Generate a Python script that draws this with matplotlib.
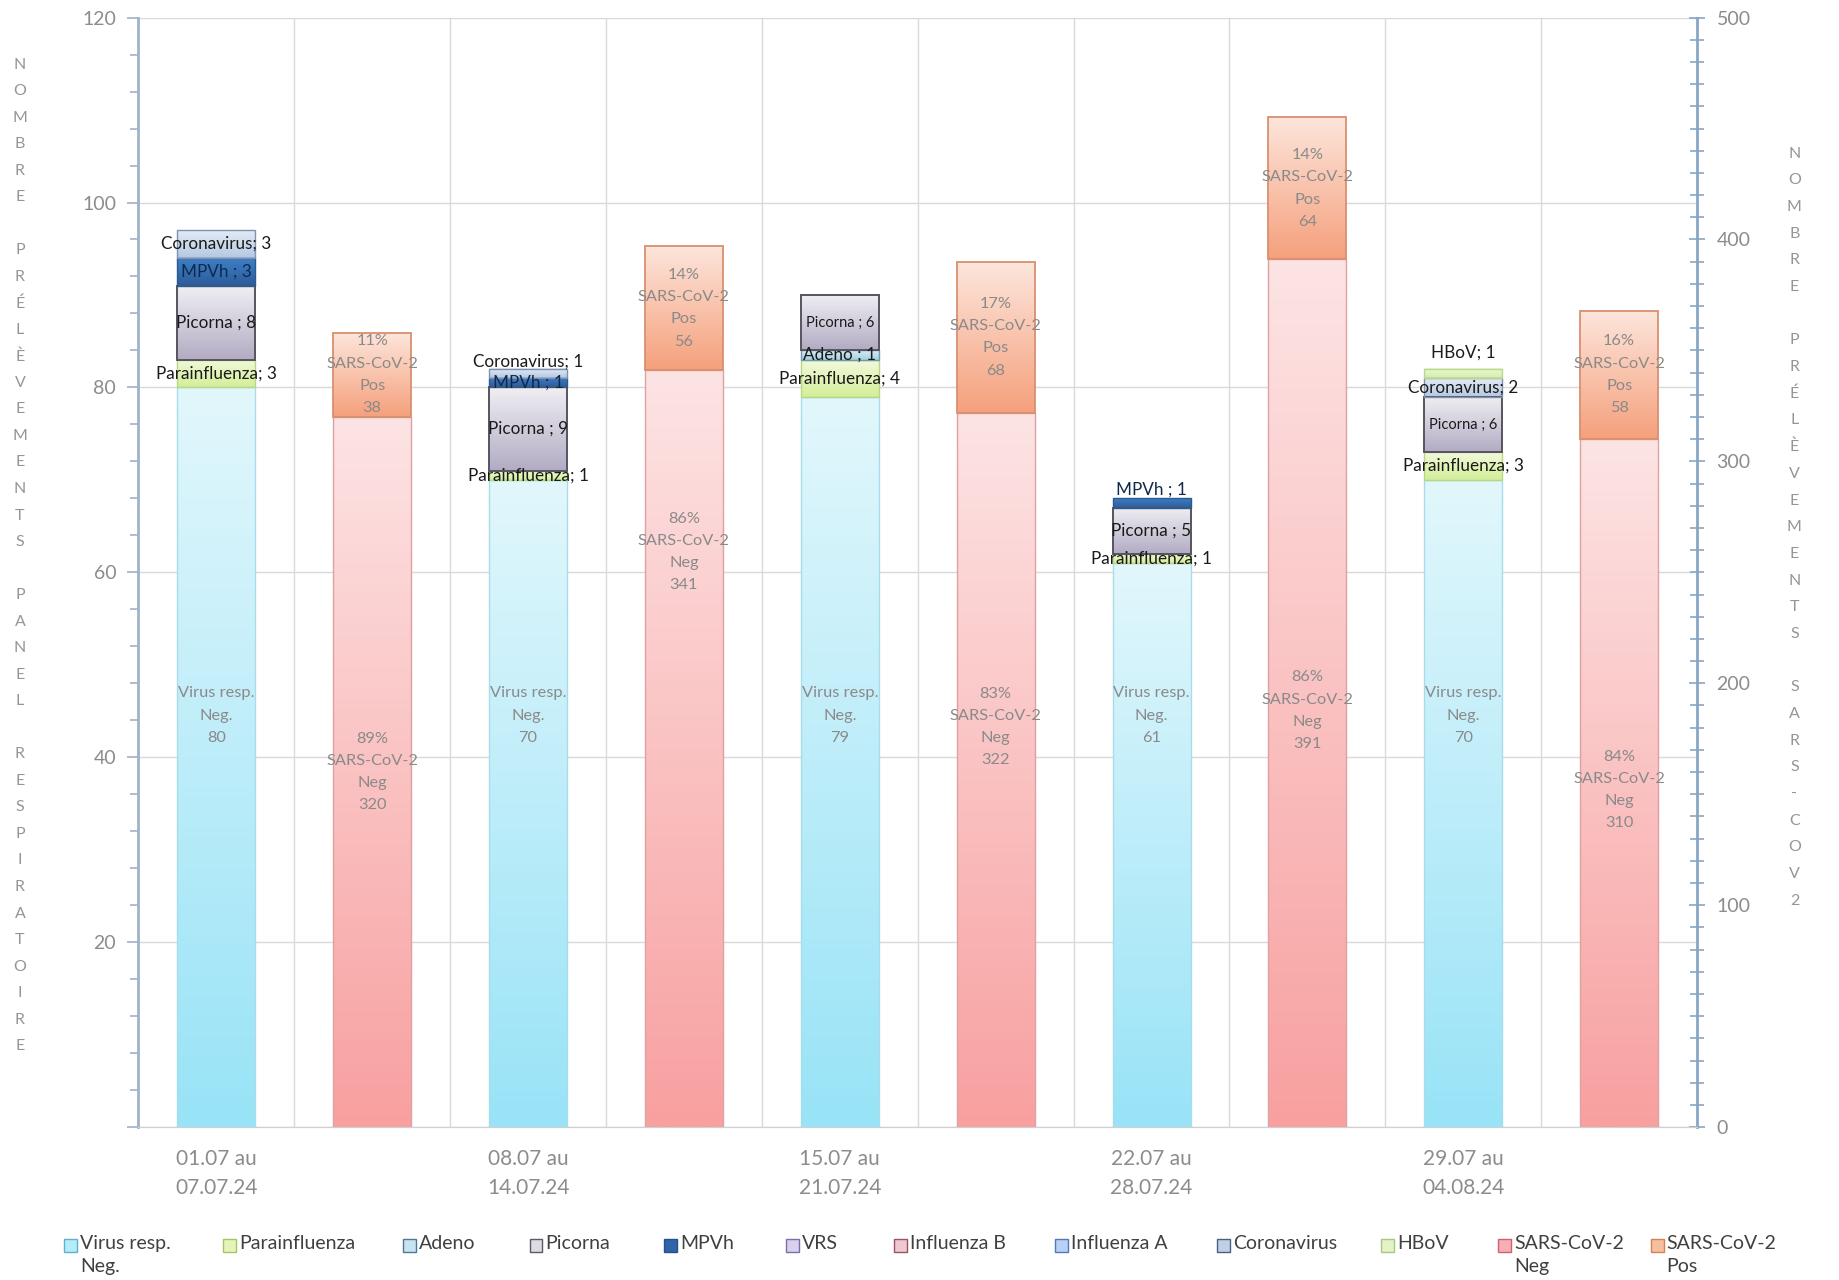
import numpy as np
import matplotlib
matplotlib.use("Agg")
import matplotlib.pyplot as plt
from matplotlib.patches import Rectangle
from matplotlib.ticker import MultipleLocator
from matplotlib.colors import to_rgb

plt.rcParams['font.family'] = ['Lato', 'DejaVu Sans']

# ---------------- data ----------------
weeks = ["01.07 au\n07.07.24", "08.07 au\n14.07.24", "15.07 au\n21.07.24",
         "22.07 au\n28.07.24", "29.07 au\n04.08.24"]
virus_neg = [80, 70, 79, 61, 70]
parainfluenza = [3, 1, 4, 1, 3]
adeno = [0, 0, 1, 0, 0]
picorna = [8, 9, 6, 5, 6]
mpvh = [3, 1, 0, 1, 0]
vrs = [0, 0, 0, 0, 0]
influenza_b = [0, 0, 0, 0, 0]
influenza_a = [0, 0, 0, 0, 0]
coronavirus = [3, 1, 0, 0, 2]
hbov = [0, 0, 0, 0, 1]
sars_neg = [320, 341, 322, 391, 310]
sars_pos = [38, 56, 68, 64, 58]

legend_labels = ["Virus resp.\nNeg.", "Parainfluenza", "Adeno", "Picorna", "MPVh", "VRS",
                 "Influenza B", "Influenza A", "Coronavirus", "HBoV", "SARS-CoV-2\nNeg",
                 "SARS-CoV-2\nPos"]

# ---------------- styles ----------------
# (name, values, label format, top colour, bottom colour, edge colour, text colour)
virus_series = [
    ("Parainfluenza", parainfluenza, "Parainfluenza; {}", "#f2f9dc", "#d4ee98", "#b8d880", "#1a1a1a"),
    ("Adeno", adeno, "Adeno ; {}", "#d8ecf4", "#a4cfe0", "#6d98b0", "#1a1a1a"),
    ("Picorna", picorna, "Picorna ; {}", "#f0eff3", "#b2abc3", "#55555f", "#1a1a1a"),
    ("MPVh", mpvh, "MPVh ; {}", "#3f7fc6", "#2a5c9c", "#2a5a90", "#10284a"),
    ("VRS", vrs, "VRS ; {}", "#e4e0f0", "#c0b8dc", "#8a80b0", "#1a1a1a"),
    ("Influenza B", influenza_b, "Influenza B ; {}", "#f4dce0", "#e0b0b8", "#a06070", "#1a1a1a"),
    ("Influenza A", influenza_a, "Influenza A ; {}", "#dce8f8", "#a8c4ec", "#5080c0", "#1a1a1a"),
    ("Coronavirus", coronavirus, "Coronavirus; {}", "#e4ebf5", "#b4c8e2", "#8090b0", "#1a1a1a"),
    ("HBoV", hbov, "HBoV; {}", "#eef8d4", "#d4ecac", "#b8d890", "#1a1a1a"),
]
# extra vertical shift (data units) for labels that were moved above crowded bars
label_shift = {("Coronavirus", 1): 1.3, ("MPVh", 3): 1.5, ("HBoV", 4): 2.3}
small_label = {("Picorna", 2), ("Picorna", 4)}
neg_label_frac = [0.50, 0.76, 0.56, 0.48, 0.49]
VNEG_LABEL_Y = 44.5

legend_face = ["#b4ecf8", "#e6f4bc", "#c8e2f0", "#dcdce2", "#2f65a8", "#d8d0ec",
               "#eccad0", "#b8d0f4", "#bfd0e4", "#e4f2c8", "#f6b0b4", "#f6c0a0"]
legend_edge = ["#60b0d0", "#a0c860", "#4a7898", "#5a5a66", "#2a5088", "#7a70a8",
               "#a05060", "#5078c0", "#4a6080", "#a8c880", "#d06070", "#d88050"]

W, H = 1839, 1280
SH = W / 1568.0  # scale from a 1568-wide layout grid


def grad_rect(ax, x, y, w, h, top, bottom, edge, lw=1.0, z=2):
    if h <= 0:
        return
    c0 = np.array(to_rgb(bottom))
    c1 = np.array(to_rgb(top))
    t = np.linspace(0, 1, 256)[:, None, None]
    img = c0[None, None, :] * (1 - t) + c1[None, None, :] * t
    ax.imshow(img, extent=[x, x + w, y, y + h], origin='lower', aspect='auto',
              interpolation='bilinear', zorder=z)
    ax.add_patch(Rectangle((x, y), w, h, facecolor='none', edgecolor=edge,
                           linewidth=lw, zorder=z + 0.5))


fig = plt.figure(figsize=(W / 100, H / 100), dpi=100)
left, right = 118 * SH / W, 1447 * SH / W
bottom, top = 1 - 961 * SH / H, 1 - 15 * SH / H
ax = fig.add_axes([left, bottom, right - left, top - bottom])
ax2 = ax.twinx()

n = len(weeks)
xv = np.arange(n) * 2          # virus bars
xs = np.arange(n) * 2 + 1      # SARS bars
bw = 0.5
LAB_FS = 11.8
LAB_LS = 1.75

# --- virus bars (left axis) ---
bars = ax.bar(xv, virus_neg, width=bw, color='none', edgecolor='none')
for i, p in enumerate(bars.patches):
    grad_rect(ax, p.get_x(), 0, bw, virus_neg[i], "#e2f7fc", "#98e3f7", "#a8dcea")
    ax.text(xv[i], VNEG_LABEL_Y, f"Virus resp.\nNeg.\n{virus_neg[i]}", ha='center',
            va='center', fontsize=LAB_FS, color='#8a8a8a', linespacing=LAB_LS, zorder=6)

cum = np.array(virus_neg, dtype=float)
for name, vals, fmt, ctop, cbot, cedge, tcol in virus_series:
    vals = np.array(vals, dtype=float)
    bs = ax.bar(xv, vals, width=bw, bottom=cum, color='none', edgecolor='none')
    for i, p in enumerate(bs.patches):
        if vals[i] <= 0:
            continue
        lw = 1.4 if name == "Picorna" else 1.0
        grad_rect(ax, p.get_x(), cum[i], bw, vals[i], ctop, cbot, cedge, lw=lw)
        yl = cum[i] + vals[i] / 2 + label_shift.get((name, i), 0)
        fs = 10.5 if (name, i) in small_label else 12.3
        ax.text(xv[i], yl, fmt.format(int(vals[i])), ha='center', va='center',
                fontsize=fs, color=tcol, zorder=7)
    cum += vals

# --- SARS bars (right axis) ---
tot = np.array(sars_neg) + np.array(sars_pos)
bn = ax2.bar(xs, sars_neg, width=bw, color='none', edgecolor='none')
bp = ax2.bar(xs, sars_pos, width=bw, bottom=sars_neg, color='none', edgecolor='none')
for i in range(n):
    grad_rect(ax2, bn.patches[i].get_x(), 0, bw, sars_neg[i], "#fde4e4", "#f8a0a0", "#e0a0a0")
    grad_rect(ax2, bp.patches[i].get_x(), sars_neg[i], bw, sars_pos[i], "#fde6dc", "#f5a07c", "#d89070", lw=1.3)
    pn = round(100 * sars_neg[i] / tot[i])
    pp = round(100 * sars_pos[i] / tot[i])
    ax2.text(xs[i], sars_neg[i] * neg_label_frac[i], f"{pn}%\nSARS-CoV-2\nNeg\n{sars_neg[i]}",
             ha='center', va='center', fontsize=LAB_FS, color='#8a8a8a', linespacing=LAB_LS, zorder=6)
    ax2.text(xs[i], sars_neg[i] + sars_pos[i] / 2, f"{pp}%\nSARS-CoV-2\nPos\n{sars_pos[i]}",
             ha='center', va='center', fontsize=LAB_FS, color='#8a8a8a', linespacing=LAB_LS, zorder=6)

# --- axes styling ---
ax.set_xlim(-0.5, 2 * n - 0.5)
ax.set_ylim(0, 120)
ax2.set_ylim(0, 500)

ax.yaxis.set_major_locator(MultipleLocator(20))
ax.yaxis.set_minor_locator(MultipleLocator(4))
ax.set_yticks(np.arange(0, 121, 20))
ax.set_yticklabels([''] + [str(v) for v in range(20, 121, 20)])
ax.tick_params(axis='y', which='major', length=8, width=1.2, color='#9fb2c8',
               labelsize=14, labelcolor='#8c8c8c', pad=8)
ax.tick_params(axis='y', which='minor', length=6, width=1.2, color='#9fb2c8')

ax2.yaxis.set_major_locator(MultipleLocator(100))
ax2.yaxis.set_minor_locator(MultipleLocator(10))
ax2.tick_params(axis='y', which='major', direction='inout', length=12, width=1.2,
                color='#8aa6c4', labelsize=14, labelcolor='#8c8c8c', pad=8)
ax2.tick_params(axis='y', which='minor', direction='inout', length=10, width=1.2, color='#8aa6c4')

ax.set_xticks(xv)
ax.set_xticklabels(weeks, fontsize=15, color='#8c8c8c', linespacing=1.55)
ax.tick_params(axis='x', which='major', length=0, pad=16)
ax.set_xticks(np.arange(0.5, 2 * n - 1, 1), minor=True)
ax.tick_params(axis='x', which='minor', length=0)

ax.grid(axis='y', which='major', color='#d9d9d9', linewidth=1.0)
ax.grid(axis='x', which='minor', color='#d9d9d9', linewidth=1.0)
ax.set_axisbelow(True)

for a in (ax, ax2):
    a.spines['top'].set_visible(False)
    a.spines['bottom'].set_color('#d0d0d0')
ax.spines['left'].set_color('#9fb2c8')
ax.spines['left'].set_linewidth(2)
ax.spines['right'].set_visible(False)
ax2.spines['left'].set_visible(False)
ax2.spines['right'].set_color('#8aa6c4')
ax2.spines['right'].set_linewidth(2)

# --- vertical stacked axis titles ---
def stacked(text, xpx, y0px, y1px):
    chars = list(text)
    ys = np.linspace(y0px, y1px, len(chars))
    for ch, ypx in zip(chars, ys):
        if ch != ' ':
            fig.text(xpx / W, 1 - ypx / H, ch, ha='center', va='center',
                     fontsize=11.5, color='#959595')

stacked("NOMBRE PRÉLÈVEMENTS PANEL RESPIRATOIRE", 17 * SH, 55 * SH, 892 * SH)
stacked("NOMBRE PRÉLÈVEMENTS SARS-COV2", 1530 * SH, 131 * SH, 768 * SH)

# --- legend (manual) ---
leg_x = [60, 196, 349, 457, 572, 676, 768, 905, 1043, 1183, 1283, 1413]
sq = 11 * SH
ly = 1062 * SH
for k, lab in enumerate(legend_labels):
    x0 = leg_x[k] * SH
    fig.patches.append(Rectangle(((x0 - sq / 2) / W, 1 - (ly + sq / 2) / H), sq / W, sq / H,
                                 transform=fig.transFigure, facecolor=legend_face[k],
                                 edgecolor=legend_edge[k], linewidth=1.0))
    fig.text((x0 + sq / 2 + 3) / W, 1 - (ly - 11) / H, lab, ha='left', va='top',
             fontsize=14, color='#404040', linespacing=1.45)

fig.savefig("out.png", dpi=100, facecolor='white')
